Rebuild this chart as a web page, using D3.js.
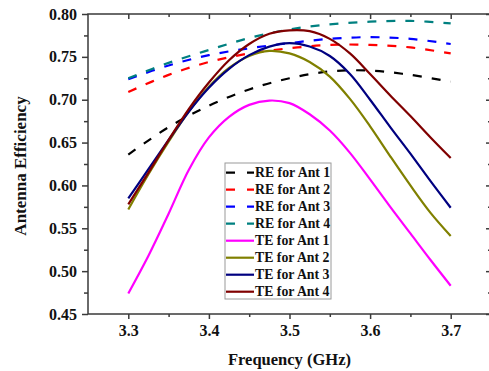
<!DOCTYPE html>
<html>
<head>
<meta charset="utf-8">
<script src="https://cdn.jsdelivr.net/npm/d3@7"></script>
<style>
  body { margin: 0; background: #fff; }
  svg text { font-family: "Liberation Serif", "Times New Roman", serif !important; font-weight: bold; fill: #111; }
</style>
</head>
<body>
<div id="chart"></div>
<script>
const reFreq = [3.3, 3.35, 3.4, 3.45, 3.5, 3.55, 3.6, 3.65, 3.7];
const re1 = [0.636, 0.668, 0.693, 0.712, 0.725, 0.733, 0.734, 0.729, 0.721];
const re2 = [0.709, 0.729, 0.744, 0.754, 0.760, 0.764, 0.764, 0.761, 0.754];
const re3 = [0.724, 0.740, 0.752, 0.760, 0.766, 0.771, 0.773, 0.771, 0.765];
const re4 = [0.725, 0.743, 0.758, 0.772, 0.782, 0.788, 0.791, 0.792, 0.789];

const teFreq = [3.3, 3.325, 3.35, 3.375, 3.4, 3.425, 3.45, 3.475, 3.5,
                3.525, 3.55, 3.575, 3.6, 3.625, 3.65, 3.675, 3.7];
const te1 = [0.474, 0.518, 0.567, 0.618, 0.656, 0.680, 0.694, 0.699, 0.696,
             0.683, 0.664, 0.638, 0.607, 0.575, 0.544, 0.513, 0.483];
const te2 = [0.572, 0.613, 0.651, 0.686, 0.715, 0.737, 0.751, 0.757, 0.754,
             0.744, 0.727, 0.701, 0.669, 0.634, 0.600, 0.568, 0.541];
const te3 = [0.585, 0.619, 0.653, 0.686, 0.714, 0.736, 0.752, 0.762, 0.766,
             0.762, 0.751, 0.730, 0.700, 0.668, 0.637, 0.605, 0.574];
const te4 = [0.578, 0.615, 0.653, 0.689, 0.720, 0.746, 0.765, 0.777, 0.781,
             0.780, 0.771, 0.754, 0.730, 0.705, 0.681, 0.656, 0.632];

const xTicks = [3.3, 3.4, 3.5, 3.6, 3.7];
const yTicks = [0.45, 0.50, 0.55, 0.60, 0.65, 0.70, 0.75, 0.80];

const series = [
  {name: "RE for Ant 1", x: reFreq, y: re1, color: "#000000", dash: true},
  {name: "RE for Ant 2", x: reFreq, y: re2, color: "#ff0000", dash: true},
  {name: "RE for Ant 3", x: reFreq, y: re3, color: "#0000ff", dash: true},
  {name: "RE for Ant 4", x: reFreq, y: re4, color: "#008080", dash: true},
  {name: "TE for Ant 1", x: teFreq, y: te1, color: "#ff00ff", dash: false},
  {name: "TE for Ant 2", x: teFreq, y: te2, color: "#808000", dash: false},
  {name: "TE for Ant 3", x: teFreq, y: te3, color: "#000080", dash: false},
  {name: "TE for Ant 4", x: teFreq, y: te4, color: "#800000", dash: false}
];

const width = 489, height = 371;
const plotLeft = 88, plotRight = 491, plotTop = 14, plotBottom = 314;
const serif = "'Liberation Serif', 'Times New Roman', serif";

const x_scale = d3.scaleLinear().domain([3.25, 3.75]).range([plotLeft, plotRight]);
const y_scale = d3.scaleLinear().domain([0.45, 0.80]).range([plotBottom, plotTop]);

const svg = d3.select("#chart").append("svg")
  .attr("width", width)
  .attr("height", height)
  .attr("font-family", serif);

const axisColor = "#3a3a3a";

// curves
const line = d3.line()
  .x(d => x_scale(d[0]))
  .y(d => y_scale(d[1]))
  .curve(d3.curveCatmullRom.alpha(0.5));

svg.selectAll(".curve")
  .data(series)
  .join("path")
  .attr("class", "curve")
  .attr("fill", "none")
  .attr("stroke", d => d.color)
  .attr("stroke-width", 2.2)
  .attr("stroke-dasharray", d => d.dash ? "9,10" : null)
  .attr("d", d => line(d.x.map((v, i) => [v, d.y[i]])));

// axes: bottom/left ticks outward, top/right ticks inward
const xMinor = [3.35, 3.45, 3.55, 3.65];
const yMinor = [0.475, 0.525, 0.575, 0.625, 0.675, 0.725, 0.775];

function styleTicks(g) {
  g.attr("font-family", serif);
  g.select(".domain").remove();
  g.selectAll(".tick line").attr("stroke", axisColor).attr("stroke-width", 1.5);
  g.selectAll(".tick text")
    .attr("font-size", 16)
    .attr("font-weight", "bold")
    .attr("fill", "#111")
    .style("font-family", serif);
}

svg.append("g")
  .attr("transform", `translate(0,${plotBottom})`)
  .call(d3.axisBottom(x_scale).tickValues(xTicks).tickSize(5).tickPadding(6).tickFormat(d3.format(".1f")))
  .call(styleTicks);

svg.append("g")
  .attr("transform", `translate(0,${plotBottom})`)
  .call(d3.axisBottom(x_scale).tickValues(xMinor).tickSize(3).tickFormat(""))
  .call(styleTicks);

svg.append("g")
  .attr("transform", `translate(${plotLeft},0)`)
  .call(d3.axisLeft(y_scale).tickValues(yTicks).tickSize(6).tickPadding(5).tickFormat(d3.format(".2f")))
  .call(styleTicks);

svg.append("g")
  .attr("transform", `translate(${plotLeft},0)`)
  .call(d3.axisLeft(y_scale).tickValues(yMinor).tickSize(4).tickFormat(""))
  .call(styleTicks);

// mirrored ticks inside the frame
svg.append("g")
  .attr("transform", `translate(0,${plotTop})`)
  .call(d3.axisBottom(x_scale).tickValues(xTicks).tickSize(5).tickFormat(""))
  .call(styleTicks);

svg.append("g")
  .attr("transform", `translate(0,${plotTop})`)
  .call(d3.axisBottom(x_scale).tickValues(xMinor).tickSize(3).tickFormat(""))
  .call(styleTicks);

svg.append("g")
  .attr("transform", `translate(${plotRight},0)`)
  .call(d3.axisLeft(y_scale).tickValues(yTicks).tickSize(5).tickFormat(""))
  .call(styleTicks);

svg.append("g")
  .attr("transform", `translate(${plotRight},0)`)
  .call(d3.axisLeft(y_scale).tickValues(yMinor).tickSize(3).tickFormat(""))
  .call(styleTicks);

// frame
svg.append("rect")
  .attr("x", plotLeft)
  .attr("y", plotTop)
  .attr("width", plotRight - plotLeft)
  .attr("height", plotBottom - plotTop)
  .attr("fill", "none")
  .attr("stroke", axisColor)
  .attr("stroke-width", 1.5);

// axis titles
svg.append("text")
  .attr("x", x_scale(3.5))
  .attr("y", 365)
  .attr("text-anchor", "middle")
  .attr("font-size", 16.5)
  .text("Frequency (GHz)");

svg.append("text")
  .attr("transform", `translate(26,166) rotate(-90)`)
  .attr("text-anchor", "middle")
  .attr("font-size", 17)
  .text("Antenna Efficiency");

// legend
const legend = svg.append("g").attr("transform", "translate(225,163)");
legend.append("rect")
  .attr("width", 106)
  .attr("height", 136)
  .attr("fill", "#fff")
  .attr("stroke", "#9a9a9a")
  .attr("stroke-width", 1);

const rows = legend.selectAll(".row")
  .data(series)
  .join("g")
  .attr("class", "row")
  .attr("transform", (d, i) => `translate(0,${9.7 + i * 17})`);

rows.append("line")
  .attr("x1", 1)
  .attr("x2", 29)
  .attr("stroke", d => d.color)
  .attr("stroke-width", 2.2)
  .attr("stroke-dasharray", d => d.dash ? "9,12" : null);

rows.append("text")
  .attr("x", 30)
  .attr("dy", "0.34em")
  .attr("font-size", 13.8)
  .text(d => d.name);
</script>
</body>
</html>
